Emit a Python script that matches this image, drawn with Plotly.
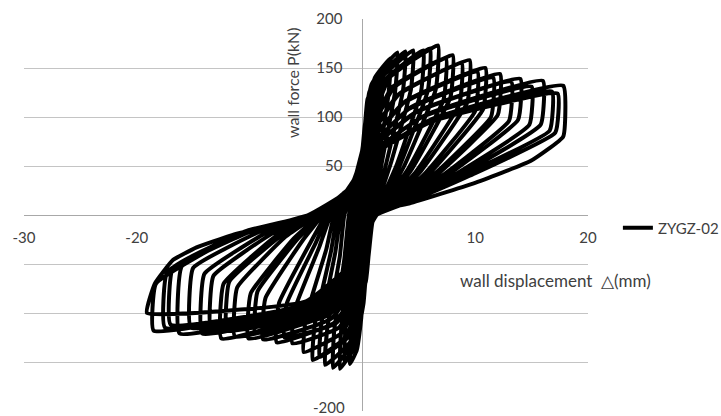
import plotly.graph_objects as go

# ---- data (displacement mm, force kN), cycle by cycle ----
loops_disp = [
    [0.0, 0.15, 0.3, 0.25, 0.1, 0.0, -0.1, -0.2, -0.15, -0.05],
    [0.25, 0.5, 0.45, 0.3, 0.2, -0.1, -0.4, -0.35, -0.2, -0.1],
    [0.3, 0.7, 0.65, 0.45, 0.4, 0.1, -0.3, -0.8, -0.7, -0.45, -0.3],
    [0.15, 0.45, 1.0, 0.9, 0.6, 0.6, 0.3, -0.1, -0.5, -1.1, -1.0, -0.7, -0.5, -0.2],
    [0.2, 0.6, 1.4, 1.3, 0.9, 0.7, 0.4, 0.0, -0.6, -1.6, -1.5, -1.0, -0.7, -0.3],
    [0.2, 0.8, 1.8, 1.7, 1.1, 0.8, 0.5, 0.1, -0.7, -2.0, -1.9, -1.3, -0.9, -0.4],
    [0.3, 1.1, 2.5, 2.3, 1.4, 0.9, 0.5, 0.1, -0.9, -2.6, -2.5, -1.6, -1.2, -0.5],
    [0.3, 1.3, 3.1, 2.9, 1.7, 1.0, 0.6, 0.1, -1.1, -3.3, -3.1, -2.0, -1.6, -0.6],
    [0.4, 1.5, 3.8, 3.6, 2.1, 1.1, 0.6, 0.2, -1.3, -3.8, -3.6, -2.4, -1.9, -0.7],
    [0.4, 1.7, 4.5, 4.3, 2.5, 1.2, 0.7, 0.2, -1.5, -4.4, -4.2, -2.8, -2.2, -0.7],
    [0.4, 2.0, 5.4, 5.2, 3.0, 1.4, 0.8, 0.3, -1.8, -5.2, -5.0, -3.2, -2.5, -0.8],
    [0.4, 2.2, 6.0, 5.8, 3.3, 1.5, 0.8, 0.3, -2.1, -6.2, -6.0, -3.8, -2.8, -0.8],
    [0.5, 2.4, 6.7, 6.5, 3.7, 1.7, 0.9, 0.3, -2.3, -6.9, -6.7, -4.2, -3.0, -0.9],
    [0.5, 2.6, 7.4, 7.2, 4.1, 1.8, 0.9, 0.3, -2.5, -7.6, -7.4, -4.6, -3.2, -0.9],
    [0.5, 2.8, 8.0, 7.8, 4.4, 2.0, 0.9, 0.3, -2.8, -8.8, -8.6, -5.3, -3.5, -1.0],
    [0.5, 3.1, 8.8, 8.6, 4.8, 2.1, 0.9, 0.3, -3.0, -9.5, -9.3, -5.7, -3.6, -1.0],
    [0.5, 3.3, 9.5, 9.3, 5.2, 2.3, 0.9, 0.3, -3.2, -10.1, -9.9, -6.1, -3.8, -1.1],
    [0.5, 3.6, 10.2, 10.0, 5.6, 2.5, 0.9, 0.3, -3.5, -11.3, -11.1, -6.8, -4.0, -1.1],
    [0.6, 3.8, 10.9, 10.7, 6.0, 2.7, 0.9, 0.3, -3.7, -12.0, -11.8, -7.2, -4.1, -1.2],
    [0.6, 4.1, 11.6, 11.4, 6.4, 2.9, 0.9, 0.3, -3.9, -12.5, -12.3, -7.5, -4.2, -1.2],
    [0.6, 4.3, 12.2, 12.0, 6.7, 3.0, 0.9, 0.3, -4.0, -13.4, -13.2, -8.0, -4.3, -1.3],
    [0.6, 4.6, 13.2, 13.0, 7.3, 3.2, 0.9, 0.3, -4.2, -14.2, -14.0, -8.5, -4.4, -1.3],
    [0.6, 4.9, 14.0, 13.8, 7.7, 3.4, 0.9, 0.3, -4.4, -15.2, -15.0, -9.1, -4.5, -1.4],
    [0.7, 5.3, 15.0, 14.8, 8.3, 3.6, 0.9, 0.3, -4.6, -16.2, -16.0, -9.7, -4.5, -1.4],
    [0.7, 5.6, 16.0, 15.8, 8.8, 3.8, 0.9, 0.3, -4.7, -17.0, -16.8, -10.2, -4.6, -1.5],
    [0.7, 5.9, 16.8, 16.6, 9.2, 4.0, 0.9, 0.3, -4.8, -17.5, -17.3, -10.5, -4.7, -1.5],
    [0.7, 6.1, 17.3, 17.1, 9.5, 4.1, 0.9, 0.3, -4.9, -18.5, -18.3, -11.0, -4.8, -1.6],
    [0.7, 6.2, 17.8, 17.8, 14.9, 9.8, 4.2, 2.7, 0.9, 0.3, -5.0, -19.1, -18.4, -16.8,
     -14.7, -11.7, -8.7, -5.8, -4.5, -2.9, -1.7, -0.2],
]
loops_force = [
    [0, 30, 60, 42, 10, -15, -35, -55, -38, -5],
    [60, 100, 75, 30, -5, -55, -95, -70, -25, 10],
    [80, 120, 92, 40, 0, -55, -105, -130, -100, -40, 5],
    [80, 118, 132, 102, 45, 0, -45, -105, -138, -152, -118, -45, 0, 25],
    [85, 125, 142, 108, 48, 2, -35, -95, -132, -150, -115, -45, 0, 28],
    [90, 133, 150, 115, 50, 3, -30, -90, -135, -157, -120, -47, 0, 28],
    [90, 140, 160, 122, 52, 4, -25, -85, -132, -156, -118, -45, 0, 30],
    [90, 142, 166, 126, 52, 5, -20, -80, -130, -153, -115, -42, 0, 30],
    [88, 140, 167, 127, 52, 6, -15, -75, -125, -145, -108, -38, 0, 31],
    [88, 140, 168, 128, 52, 7, -12, -72, -125, -148, -110, -38, 0, 32],
    [85, 138, 168, 126, 50, 8, -10, -68, -120, -140, -104, -35, 0, 32],
    [84, 138, 170, 127, 50, 8, -8, -65, -115, -131, -96, -32, 0, 32],
    [84, 140, 173, 128, 50, 8, -7, -62, -110, -125, -90, -30, 0, 31],
    [80, 130, 160, 118, 48, 9, -6, -60, -110, -130, -90, -28, 0, 30],
    [80, 130, 163, 120, 47, 10, -5, -56, -106, -127, -85, -26, 0, 29],
    [76, 122, 155, 113, 45, 10, -5, -54, -102, -120, -78, -24, 0, 28],
    [76, 124, 158, 115, 45, 11, -4, -52, -102, -126, -80, -24, 0, 27],
    [72, 114, 146, 106, 43, 11, -4, -50, -100, -124, -74, -22, 0, 26],
    [72, 116, 150, 108, 43, 12, -3, -48, -97, -118, -68, -21, 0, 26],
    [68, 108, 140, 100, 42, 12, -3, -47, -98, -126, -70, -20, 0, 25],
    [68, 110, 144, 102, 42, 12, -3, -46, -95, -118, -62, -19, 0, 25],
    [65, 104, 136, 96, 42, 12, -2, -44, -95, -121, -60, -18, 0, 24],
    [65, 106, 139, 97, 42, 12, -2, -43, -92, -115, -54, -17, 0, 24],
    [62, 100, 131, 92, 42, 12, -2, -42, -92, -121, -52, -16, 0, 23],
    [62, 102, 137, 92, 42, 13, -2, -41, -90, -112, -54, -16, 0, 23],
    [60, 96, 126, 86, 42, 13, -2, -40, -90, -115, -58, -18, 0, 22],
    [60, 95, 124, 84, 40, 13, -2, -38, -90, -118, -70, -20, 0, 22],
    [60, 98, 132, 80, 55, 32, 12, 8, -2, -36, -88, -100, -70, -46,
     -33, -21, -12, -4, 0, 10, 22, 35],
]
series_name = "ZYGZ-02"
x_ticks = [-30, -20, -10, 0, 10, 20]
x_tick_text = ["-30", "-20", "", "", "10", "20"]
y_ticks = [-200, -150, -100, -50, 0, 50, 100, 150, 200]
y_tick_text = ["", "", "", "", "", "50", "100", "150", "200"]
y_bottom_label = "-200"

# continuous test path
disp = [v for row in loops_disp for v in row]
force = [v for row in loops_force for v in row]

FONT = "Lato, 'Open Sans', sans-serif"
TXT = "#404040"

fig = go.Figure()
fig.add_trace(go.Scatter(x=disp, y=force, mode="lines", name=series_name,
                         line=dict(color="black", width=4, shape="spline", smoothing=0.35),
                         showlegend=True))

fig.update_layout(
    width=721, height=416,
    margin=dict(l=24, r=133, t=19, b=5, autoexpand=False),
    paper_bgcolor="white", plot_bgcolor="white",
    font=dict(family=FONT, size=15, color=TXT),
    xaxis=dict(range=[-30, 20], tickvals=x_ticks, ticktext=x_tick_text,
               showgrid=False, zeroline=False, automargin=False,
               showline=True, linecolor="#a8a8a8", linewidth=1,
               anchor="free", position=0.5, layer="below traces",
               ticks="", ticklabelstandoff=9, ticklabeloverflow="allow",
               tickfont=dict(size=15, color=TXT)),
    yaxis=dict(range=[-200, 200], tickvals=y_ticks, ticktext=y_tick_text,
               showgrid=True, gridcolor="#c4c4c4", automargin=False,
               gridwidth=1, zeroline=False, showline=True, linecolor="#a8a8a8", linewidth=1,
               anchor="free", position=0.6, layer="below traces",
               ticks="", ticklabelstandoff=17, ticklabeloverflow="allow",
               tickfont=dict(size=15, color=TXT)),
    legend=dict(xref="container", yref="container", x=0.857, y=0.452,
                xanchor="left", yanchor="middle",
                font=dict(size=15, color=TXT), bgcolor="rgba(0,0,0,0)"),
    annotations=[
        dict(text="wall force P(kN)", xref="paper", yref="paper", x=0.477, y=0.837,
             textangle=-90, showarrow=False, font=dict(size=16, color=TXT),
             xanchor="center", yanchor="middle"),
        dict(text="wall displacement  △(mm)", xref="paper", yref="paper", x=0.943, y=0.334,
             showarrow=False, font=dict(size=17, color=TXT),
             xanchor="center", yanchor="middle"),
        dict(text=y_bottom_label, xref="x", yref="y", x=0, y=y_ticks[0],
             xanchor="right", yanchor="middle", xshift=-15, yshift=4,
             showarrow=False, font=dict(size=15, color=TXT)),
    ],
)

fig.write_html("out.html")
